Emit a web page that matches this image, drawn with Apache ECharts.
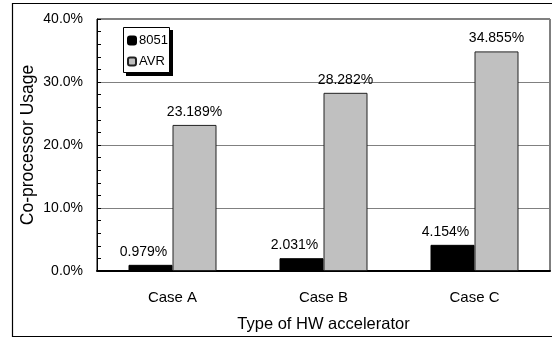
<!DOCTYPE html>
<html>
<head>
<meta charset="utf-8">
<script src="https://cdn.jsdelivr.net/npm/echarts@6/dist/echarts.min.js"></script>
<style>
  html, body { margin: 0; padding: 0; background: #fff; }
  #chart { width: 552px; height: 338px; }
</style>
</head>
<body>
<div id="chart"></div>
<script>
const cases = ["Case A", "Case B", "Case C"];
const usage8051 = [0.979, 2.031, 4.154];
const usageAVR = [23.189, 28.282, 34.855];
const yTicks = [0, 10, 20, 30, 40];

const FONT = "'Liberation Sans', Arial, Helvetica, sans-serif";

const chart = echarts.init(document.getElementById("chart"), null, { renderer: "canvas" });

const label = (dx) => ({
  show: true,
  position: "top",
  distance: 6,
  offset: [dx, 0],
  color: "#000",
  fontFamily: FONT,
  fontSize: 14,
  formatter: (p) => p.value.toFixed(3) + "%",
});

chart.setOption({
  backgroundColor: "#fff",
  animation: false,
  textStyle: { fontFamily: FONT },
  graphic: [
    {
      type: "rect",
      shape: { x: 12.5, y: 3.5, width: 600, height: 333 },
      style: { fill: "none", stroke: "#000", lineWidth: 1.2 },
      silent: true,
      z: -1,
    },
    // legend frame + drop shadow
    {
      type: "rect",
      shape: { x: 126, y: 30, width: 47, height: 46 },
      style: { fill: "#000" },
      silent: true,
      z: 10,
    },
    {
      type: "rect",
      shape: { x: 123.5, y: 27.5, width: 46, height: 45 },
      style: { fill: "#fff", stroke: "#000", lineWidth: 1 },
      silent: true,
      z: 11,
    },
  ],
  grid: {
    left: 97, right: 2, top: 19, bottom: 60,
    show: true, borderColor: "#000", borderWidth: 1,
  },
  legend: {
    orient: "vertical",
    left: 127,
    top: 34,
    padding: 0,
    itemGap: 8,
    itemWidth: 8,
    itemHeight: 8,
    z: 20,
    textStyle: { color: "#000", fontSize: 13, fontFamily: FONT, lineHeight: 13, padding: [0, 0, 0, -2] },
    data: ["8051", "AVR"],
  },
  xAxis: {
    type: "category",
    data: cases,
    name: "Type of HW accelerator",
    nameLocation: "middle",
    nameGap: 45,
    nameTextStyle: { color: "#000", fontSize: 16.5, fontFamily: FONT },
    axisLine: { lineStyle: { color: "#000", width: 2 } },
    axisTick: { show: false },
    axisLabel: { color: "#000", fontSize: 15, fontFamily: FONT, margin: 19 },
  },
  yAxis: {
    type: "value",
    min: yTicks[0],
    max: yTicks[yTicks.length - 1],
    interval: 10,
    name: "Co-processor Usage",
    nameLocation: "middle",
    nameGap: 60,
    nameMoveOverlap: false,
    nameTextStyle: { color: "#000", fontSize: 17.5, fontFamily: FONT },
    axisLine: { show: true, lineStyle: { color: "#000", width: 1 } },
    axisTick: { show: true, inside: true, length: 4, lineStyle: { color: "#000" } },
    minorTick: { show: true, splitNumber: 5, length: 4, lineStyle: { color: "#000" } },
    axisLabel: {
      color: "#000",
      fontSize: 14,
      fontFamily: FONT,
      margin: 14,
      formatter: (v) => v.toFixed(1) + "%",
    },
    splitLine: { lineStyle: { color: "#808080", width: 1 } },
  },
  series: [
    {
      name: "8051",
      type: "bar",
      data: usage8051,
      barWidth: 44,
      barGap: "0%",
      itemStyle: { color: "#000", borderColor: "#000", borderWidth: 1 },
      label: label(-7),
    },
    {
      name: "AVR",
      type: "bar",
      data: usageAVR,
      barWidth: 44,
      itemStyle: { color: "#c0c0c0", borderColor: "#222", borderWidth: 1 },
      label: label(0),
    },
  ],
});
</script>
</body>
</html>
